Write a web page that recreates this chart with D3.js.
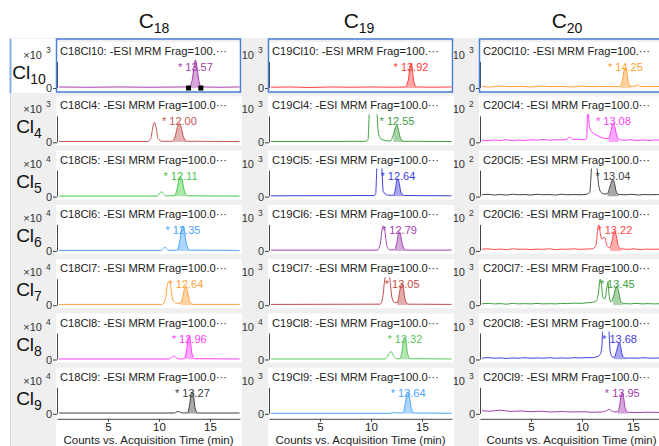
<!DOCTYPE html>
<html>
<head>
<meta charset="utf-8">
<script src="https://cdn.jsdelivr.net/npm/d3@7"></script>
<style>
  body { margin: 0; background: #fff; }
  svg { display: block; font-family: "Liberation Sans", Arial, sans-serif; }
</style>
</head>
<body>
<svg id="chart" width="659" height="446"></svg>
<script>
//columns = carbon chain length, rows = number of chlorines
const chains = ["18", "19", "20"];
const chlorines = ["10", "4", "5", "6", "7", "8", "9"];

//exponent of the "x10^n" counts label, per row [C18, C19, C20]
const exponents = [[3, 3, 3], [3, 3, 2], [4, 3, 2], [4, 3, 2], [4, 3, 3], [4, 4, 3], [4, 3, 3]];

//labelled retention time (min) of the integrated peak
const retention = [
  [13.57, 13.92, 14.25], [12.00, 12.55, 13.08], [12.11, 12.64, 13.04],
  [12.35, 12.79, 13.22], [12.64, 13.05, 13.45], [12.96, 13.32, 13.68],
  [13.27, 13.64, 13.95],
];

//integration window [start, end] (min) of the shaded peak
const windows = [
  [[12.9, 14.1], [13.4, 14.4], [13.75, 14.8]],
  [[11.4, 12.7], [12.2, 13.3], [12.6, 13.6]],
  [[11.55, 12.85], [12.2, 13.2], [12.5, 13.6]],
  [[11.8, 13.0], [12.35, 13.4], [12.75, 13.85]],
  [[12.1, 13.25], [12.55, 13.6], [13.05, 14.0]],
  [[12.5, 13.5], [12.9, 13.85], [13.15, 14.2]],
  [[12.8, 13.8], [13.2, 14.2], [13.5, 14.5]],
];

const colors = [
  ["#a33fab", "#ff3b3b", "#ff9f2e"],
  ["#c45454", "#3e9e3e", "#ff3cff"],
  ["#44c844", "#3e3ede", "#404040"],
  ["#4aa3ff", "#a042b0", "#ff4a4a"],
  ["#ffa23e", "#c24a4a", "#3e9e3e"],
  ["#ff3cff", "#58c858", "#3e3ede"],
  ["#404040", "#4aa3ff", "#a33fab"],
];

//chromatogram traces, [time (min), relative counts]
const traces18 = [
  [[0.2,0.04],[3,0.03],[6,0.04],[9,0.03],[12.2,0.04],[12.95,0.04],[13.25,0.3],[13.45,0.85],[13.57,1.08],[13.7,0.85],[13.9,0.3],[14.15,0.04],[16,0.03],[17.9,0.04]],
  [[0.2,0.03],[5,0.03],[8.9,0.03],[9.2,0.15],[9.4,0.6],[9.55,0.77],[9.7,0.6],[9.9,0.15],[10.3,0.04],[11.3,0.04],[11.6,0.25],[11.85,0.65],[12.0,0.73],[12.15,0.62],[12.4,0.2],[12.75,0.04],[17.9,0.03]],
  [[0.2,0.02],[9.8,0.02],[10.05,0.12],[10.25,0.19],[10.45,0.1],[10.7,0.03],[11.5,0.03],[11.75,0.25],[11.98,0.7],[12.11,0.77],[12.25,0.65],[12.5,0.2],[12.8,0.03],[17.9,0.02]],
  [[0.2,0.02],[10.2,0.02],[10.45,0.1],[10.59,0.15],[10.75,0.08],[11.0,0.02],[11.75,0.03],[12.0,0.3],[12.22,0.85],[12.35,0.96],[12.48,0.8],[12.7,0.25],[13.0,0.03],[17.9,0.02]],
  [[0.2,0.03],[10.3,0.03],[10.6,0.2],[10.85,0.85],[10.97,0.92],[11.1,0.82],[11.35,0.2],[11.7,0.08],[12.1,0.07],[12.35,0.35],[12.55,0.7],[12.64,0.73],[12.75,0.6],[13.0,0.15],[13.3,0.03],[17.9,0.03]],
  [[0.2,0.02],[11.0,0.02],[11.3,0.1],[11.49,0.13],[11.7,0.07],[12.0,0.02],[12.45,0.03],[12.7,0.35],[12.86,0.82],[12.96,0.88],[13.06,0.75],[13.25,0.2],[13.5,0.03],[17.9,0.02]],
  [[0.2,0.03],[11.5,0.03],[11.75,0.08],[11.9,0.09],[12.1,0.05],[12.4,0.03],[12.8,0.04],[13.0,0.35],[13.17,0.8],[13.27,0.85],[13.37,0.72],[13.55,0.2],[13.8,0.03],[17.9,0.03]],
];

const traces19 = [
  [[0.2,0.03],[2,0.04],[4,0.02],[6,0.04],[8,0.03],[10,0.04],[12,0.03],[13.35,0.04],[13.65,0.3],[13.82,0.8],[13.92,0.96],[14.02,0.8],[14.2,0.25],[14.45,0.04],[16,0.03],[17.9,0.04]],
  [[0.2,0.03],[5,0.03],[9.5,0.04],[9.7,0.1],[9.85,1.3],[10.2,2.6],[10.55,1.3],[10.75,0.3],[11.0,0.12],[11.4,0.07],[11.9,0.05],[12.2,0.3],[12.45,0.62],[12.55,0.65],[12.7,0.45],[12.95,0.1],[13.3,0.04],[17.9,0.03]],
  [[0.2,0.03],[10.3,0.04],[10.45,0.08],[10.58,1.2],[10.8,2.5],[11.05,1.2],[11.2,0.2],[11.6,0.06],[12.2,0.05],[12.4,0.3],[12.55,0.65],[12.64,0.69],[12.75,0.55],[12.95,0.15],[13.3,0.04],[17.9,0.03]],
  [[0.2,0.03],[10.6,0.03],[10.9,0.25],[11.1,0.85],[11.22,0.96],[11.35,0.8],[11.55,0.2],[11.85,0.04],[12.3,0.04],[12.55,0.35],[12.7,0.68],[12.79,0.73],[12.9,0.6],[13.15,0.15],[13.45,0.03],[17.9,0.03]],
  [[0.2,0.03],[10.9,0.04],[11.15,0.3],[11.35,1.0],[11.6,1.3],[11.85,1.0],[12.05,0.3],[12.3,0.1],[12.6,0.12],[12.8,0.5],[12.95,0.78],[13.05,0.81],[13.15,0.7],[13.35,0.2],[13.65,0.04],[17.9,0.03]],
  [[0.2,0.02],[11.4,0.02],[11.7,0.18],[11.95,0.31],[12.2,0.15],[12.5,0.03],[12.85,0.03],[13.05,0.35],[13.22,0.8],[13.32,0.85],[13.42,0.7],[13.6,0.2],[13.85,0.03],[17.9,0.02]],
  [[0.2,0.02],[11.9,0.02],[12.27,0.05],[12.6,0.03],[13.15,0.03],[13.35,0.35],[13.54,0.8],[13.64,0.85],[13.74,0.7],[13.95,0.2],[14.2,0.03],[17.9,0.02]],
];

const traces20 = [
  [[0.2,0.06],[1,0.04],[2,0.07],[3,0.05],[4,0.06],[5,0.04],[6,0.07],[7,0.05],[8,0.06],[9,0.04],[10,0.07],[11,0.05],[12,0.06],[13,0.05],[13.7,0.06],[14.0,0.35],[14.15,0.72],[14.25,0.77],[14.35,0.7],[14.55,0.2],[14.8,0.06],[15.2,0.07],[15.45,0.12],[15.7,0.06],[16.5,0.05],[17.9,0.06]],
  [[0.2,0.08],[0.8,0.06],[1.4,0.09],[2.0,0.07],[2.6,0.1],[3.2,0.06],[3.8,0.09],[4.4,0.07],[5.0,0.1],[5.6,0.08],[6.2,0.11],[6.8,0.08],[7.4,0.1],[8.0,0.09],[8.5,0.12],[8.8,0.2],[9.1,0.11],[9.6,0.12],[10.1,0.1],[10.45,0.14],[10.58,1.4],[10.7,0.7],[10.85,0.45],[11.1,0.35],[11.4,0.28],[11.7,0.22],[12.0,0.17],[12.3,0.14],[12.6,0.15],[12.85,0.45],[13.0,0.7],[13.08,0.73],[13.2,0.6],[13.45,0.2],[13.7,0.1],[14.2,0.08],[14.8,0.1],[15.4,0.07],[16.0,0.09],[16.6,0.07],[17.2,0.09],[17.9,0.08]],
  [[0.2,0.07],[0.8,0.09],[1.4,0.06],[2.0,0.08],[2.6,0.06],[3.2,0.09],[3.8,0.07],[4.4,0.08],[5.0,0.06],[5.6,0.09],[6.2,0.07],[6.8,0.08],[7.4,0.06],[8.0,0.09],[8.6,0.07],[9.2,0.08],[9.8,0.07],[10.4,0.09],[10.75,0.16],[10.95,1.2],[11.2,2.0],[11.45,1.2],[11.65,0.4],[11.9,0.15],[12.2,0.1],[12.5,0.12],[12.75,0.4],[12.95,0.62],[13.04,0.65],[13.15,0.55],[13.4,0.15],[13.7,0.08],[14.3,0.07],[14.9,0.09],[15.5,0.06],[16.1,0.08],[16.7,0.07],[17.3,0.08],[17.9,0.07]],
  [[0.2,0.06],[0.8,0.08],[1.4,0.05],[2.0,0.07],[2.6,0.05],[3.2,0.08],[3.8,0.06],[4.4,0.07],[5.0,0.05],[5.6,0.07],[6.2,0.06],[6.8,0.08],[7.4,0.05],[8.0,0.07],[8.6,0.06],[9.2,0.08],[9.8,0.06],[10.4,0.07],[11.0,0.08],[11.35,0.2],[11.55,0.85],[11.65,1.0],[11.78,0.7],[11.95,0.45],[12.1,0.52],[12.24,0.5],[12.45,0.2],[12.7,0.12],[12.95,0.4],[13.12,0.72],[13.22,0.77],[13.35,0.6],[13.6,0.15],[13.9,0.08],[14.5,0.06],[15.1,0.08],[15.7,0.05],[16.3,0.07],[16.9,0.06],[17.9,0.07]],
  [[0.2,0.05],[0.8,0.07],[1.4,0.05],[2.0,0.06],[2.6,0.04],[3.2,0.07],[3.8,0.05],[4.4,0.06],[5.0,0.05],[5.6,0.07],[6.2,0.05],[6.8,0.06],[7.4,0.05],[8.0,0.07],[8.6,0.06],[9.2,0.08],[9.8,0.07],[10.4,0.09],[11.0,0.11],[11.4,0.16],[11.6,0.45],[11.78,1.0],[11.9,0.8],[12.05,0.3],[12.25,0.25],[12.45,0.7],[12.55,0.9],[12.65,0.4],[12.85,0.12],[13.1,0.35],[13.35,0.7],[13.45,0.73],[13.55,0.6],[13.8,0.15],[14.1,0.06],[14.7,0.05],[15.3,0.07],[15.9,0.05],[16.5,0.06],[17.1,0.05],[17.9,0.06]],
  [[0.2,0.05],[0.8,0.07],[1.4,0.05],[2.0,0.06],[2.6,0.04],[3.2,0.06],[3.8,0.05],[4.4,0.07],[5.0,0.05],[5.6,0.06],[6.2,0.05],[6.8,0.07],[7.4,0.05],[8.0,0.06],[8.6,0.05],[9.2,0.07],[9.8,0.06],[10.4,0.07],[11.0,0.07],[11.4,0.1],[11.75,0.18],[11.95,0.5],[12.02,1.2],[12.3,2.0],[12.63,1.2],[12.75,0.35],[12.95,0.1],[13.15,0.08],[13.4,0.35],[13.6,0.62],[13.68,0.65],[13.78,0.5],[14.0,0.12],[14.3,0.05],[14.9,0.06],[15.5,0.05],[16.1,0.07],[16.7,0.05],[17.9,0.06]],
  [[0.2,0.12],[1.0,0.1],[2.0,0.14],[3.0,0.09],[4.0,0.11],[5.0,0.08],[6.0,0.1],[7.0,0.07],[8.0,0.09],[9.0,0.07],[10.0,0.08],[11.0,0.06],[12.0,0.07],[12.4,0.12],[12.68,0.17],[12.95,0.1],[13.2,0.07],[13.5,0.08],[13.7,0.35],[13.87,0.76],[13.95,0.81],[14.05,0.68],[14.25,0.2],[14.5,0.06],[15.5,0.05],[16.5,0.06],[17.9,0.05]],
];

const xTicks = [5, 10, 15];
const timeDomain = [0, 17.94];

//layout
const svg = d3.select("#chart");
const colX = [57, 269, 480];
const plotW = 183;
const plotH = 26;
const headerX = [154, 359, 567];
const rowZero = chlorines.map((d, i) => 88 + i * 54.3);
const columns = [traces18, traces19, traces20];
const lastRow = chlorines.length - 1;

const xScales = colX.map((x0) => d3.scaleLinear().domain(timeDomain).range([x0, x0 + plotW]));

//grey workspace behind the panels
svg.append("rect")
  .attr("x", 10).attr("y", 38).attr("width", 649).attr("height", 408)
  .attr("fill", "#efefef");
svg.append("line")
  .attr("x1", 10.5).attr("x2", 10.5).attr("y1", 38).attr("y2", 446)
  .attr("stroke", "#d4d4d4");

//column headers C18, C19, C20
chains.forEach((ch, i) => {
  const t = svg.append("text")
    .attr("x", headerX[i]).attr("y", 28)
    .attr("text-anchor", "middle")
    .style("font-size", "21px").attr("fill", "#111");
  t.append("tspan").text("C");
  t.append("tspan").attr("dy", 5).style("font-size", "14px").text(ch);
});

const defs = svg.append("defs");

chlorines.forEach((cl, r) => {
  const z = rowZero[r];
  const y = d3.scaleLinear().domain([0, 1]).range([z, z - plotH]);

  //selected row gets a white strip and blue marker
  if (r === 0) {
    svg.append("rect")
      .attr("x", 11).attr("y", z - 49).attr("width", 46).attr("height", 54)
      .attr("fill", "#fff");
    svg.append("line")
      .attr("x1", 10.5).attr("x2", 10.5).attr("y1", z - 49).attr("y2", z + 5)
      .attr("stroke", "#86aee8").attr("stroke-width", 2);
  }

  //row label Cl_n
  const lab = svg.append("text")
    .attr("x", 29).attr("y", z - 9)
    .attr("text-anchor", "middle")
    .style("font-size", "19px").attr("fill", "#111");
  lab.append("tspan").text("Cl");
  lab.append("tspan").attr("dy", 5).style("font-size", "14px").text(cl);

  //x10^n labels; the panel to the left hides the "x" of columns 2 and 3
  chains.forEach((ch, c) => {
    const x0 = colX[c];
    svg.append("text")
      .attr("x", x0 - 15).attr("y", z - 29)
      .attr("text-anchor", "end")
      .style("font-size", "11px").attr("fill", "#333")
      .text(c === 0 ? "\u00d710" : "10");
    svg.append("text")
      .attr("x", x0 - 11).attr("y", z - 35)
      .style("font-size", "8.5px").attr("fill", "#333")
      .text(exponents[r][c]);
  });

  chains.forEach((ch, c) => {
    const x0 = colX[c];
    const x = xScales[c];
    const color = colors[r][c];
    const data = columns[c][r];
    const [w0, w1] = windows[r][c];
    const bottom = r === lastRow ? 446 : z + 3;

    //white panel
    svg.append("rect")
      .attr("x", x0 - 1).attr("y", z - 46)
      .attr("width", plotW + 3).attr("height", bottom - (z - 46))
      .attr("fill", "#fff");

    //panel title
    const frag = r === 0 ? "Frag=100.\u00b7\u00b7\u00b7" : "Frag=100.0\u00b7\u00b7\u00b7";
    svg.append("text")
      .attr("x", x0 + 3).attr("y", z - 33)
      .style("font-size", "11.2px").attr("fill", "#222")
      .text(`C${ch}Cl${cl}: -ESI MRM ${frag}`);

    //y axis: line + zero tick
    svg.append("line")
      .attr("x1", x0 + 0.5).attr("x2", x0 + 0.5).attr("y1", z - plotH).attr("y2", z)
      .attr("stroke", "#444");
    svg.append("line")
      .attr("x1", x0 - 4).attr("x2", x0).attr("y1", z + 0.5).attr("y2", z + 0.5)
      .attr("stroke", "#444");
    svg.append("text")
      .attr("x", x0 - 5).attr("y", z + 4)
      .attr("text-anchor", "end")
      .style("font-size", "11px").attr("fill", "#333")
      .text("0");

    //clip regions: plot area and integration window
    const clipId = `clip-${r}-${c}`;
    defs.append("clipPath").attr("id", clipId)
      .append("rect")
      .attr("x", x0 + 1).attr("y", z - plotH - 2)
      .attr("width", plotW - 1).attr("height", plotH + 4);
    const winId = `win-${r}-${c}`;
    defs.append("clipPath").attr("id", winId)
      .append("rect")
      .attr("x", x(w0)).attr("y", z - plotH - 2)
      .attr("width", x(w1) - x(w0)).attr("height", plotH + 2);

    const g = svg.append("g").attr("clip-path", `url(#${clipId})`);

    const area = d3.area()
      .x((d) => x(d[0]))
      .y0(z)
      .y1((d) => y(d[1]))
      .curve(d3.curveMonotoneX);
    g.append("path")
      .datum(data)
      .attr("clip-path", `url(#${winId})`)
      .attr("d", area)
      .attr("fill", color)
      .attr("fill-opacity", 0.45);

    const line = d3.line()
      .x((d) => x(d[0]))
      .y((d) => y(d[1]))
      .curve(d3.curveMonotoneX);
    g.append("path")
      .datum(data)
      .attr("d", line)
      .attr("fill", "none")
      .attr("stroke", color)
      .attr("stroke-width", 1);

    //integration boundary markers on the selected chromatogram
    if (r === 0 && c === 0) {
      [w0, w1].forEach((t) => {
        svg.append("rect")
          .attr("x", x(t) - 2.5).attr("y", z - 2.5)
          .attr("width", 5).attr("height", 5)
          .attr("fill", "#000");
      });
    }

    //retention time label
    svg.append("text")
      .attr("x", x(retention[r][c])).attr("y", z - 17)
      .attr("text-anchor", "middle")
      .style("font-size", "11px").attr("fill", color)
      .text(`* ${retention[r][c].toFixed(2)}`);

    //blue selection frame on the first row
    if (r === 0) {
      svg.append("rect")
        .attr("x", x0 - 0.5).attr("y", z - 49)
        .attr("width", plotW + 1).attr("height", 53)
        .attr("fill", "none")
        .attr("stroke", "#4a7fd6").attr("stroke-width", 1.5);
    }

    //time axis under the last row
    if (r === lastRow) {
      const axisY = z + 5;
      const axis = svg.append("g").attr("transform", `translate(0,${axisY})`)
        .call(d3.axisBottom(x).tickValues(xTicks).tickSize(3).tickSizeOuter(0).tickFormat(d3.format("d")));
      axis.select(".domain").attr("stroke", "#444");
      axis.selectAll(".tick line").attr("stroke", "#444");
      axis.selectAll(".tick text")
        .attr("y", 4)
        .attr("font-family", null)
        .style("font-size", "11.5px").attr("fill", "#222");
      svg.append("text")
        .attr("x", x0 + plotW / 2).attr("y", 444)
        .attr("text-anchor", "middle")
        .style("font-size", "11.5px").attr("fill", "#222")
        .text("Counts vs. Acquisition Time (min)");
    }
  });
});
</script>
</body>
</html>
